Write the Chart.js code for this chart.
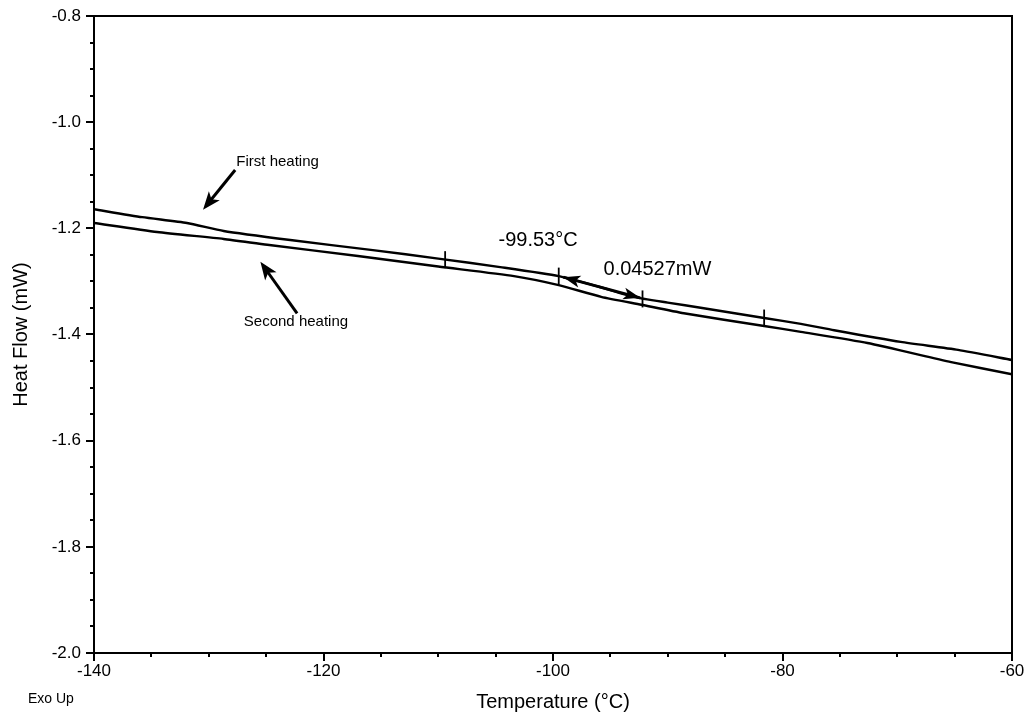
<!DOCTYPE html>
<html>
<head>
<meta charset="utf-8">
<script src="https://cdn.jsdelivr.net/npm/chart.js@4"></script>
<style>
  html, body { margin: 0; padding: 0; background: #fff; }
  #wrap { width: 1028px; height: 715px; }
</style>
</head>
<body>
<div id="wrap"><canvas id="chart"></canvas></div>
<script>
// temperatures (°C) and heat flow (mW)
const firstTemps = [-140, -135.8, -131.9, -128.7, -122.9, -115.7, -110, -104.6, -99.5, -96, -93, -90, -87, -81.6, -78.4, -75.5, -69.7, -64.7, -60];
const firstFlow = [-1.164, -1.179, -1.19, -1.205, -1.222, -1.241, -1.257, -1.273, -1.29, -1.31, -1.329, -1.34, -1.35, -1.369, -1.38, -1.392, -1.414, -1.429, -1.448];

const secondTemps = [-140, -134.5, -128.7, -124.9, -117, -110, -103.4, -99.5, -95.8, -92.3, -88.6, -81.6, -78.4, -72.6, -65.3, -60];
const secondFlow = [-1.19, -1.207, -1.22, -1.231, -1.252, -1.272, -1.29, -1.307, -1.329, -1.344, -1.36, -1.384, -1.395, -1.416, -1.452, -1.475];

// glass transition markers on the first heating curve
const markerTemps = [-109.4, -99.5, -92.2, -81.6];
const markerFlow = [-1.259, -1.29, -1.333, -1.369];

// step height arrow (two ends) and label arrows [tailX, tailY, headX, headY]
const stepArrow = [-99.1, -1.292, -92.4, -1.331];
const firstArrow = [-127.7, -1.09, -130.5, -1.165];
const secondArrow = [-122.3, -1.36, -125.5, -1.263];

const labels = ['-99.53°C', '0.04527mW', 'First heating', 'Second heating'];
const labelTemps = [-101.3, -90.9, -124, -122.4];
const labelFlow = [-1.222, -1.278, -1.075, -1.376];

const xMin = -140, xMax = -60;
const yMin = -2.0, yMax = -0.8;

const FONT = 'Arial, "Liberation Sans", sans-serif';

function toPoints(xs, ys) {
  return xs.map((x, i) => ({ x: x, y: ys[i] }));
}

function isMultiple(v, step) {
  const r = v / step;
  return Math.abs(r - Math.round(r)) < 1e-6;
}

function arrowHead(ctx, x1, y1, x2, y2, len, half) {
  const a = Math.atan2(y2 - y1, x2 - x1);
  ctx.beginPath();
  ctx.moveTo(x2, y2);
  ctx.lineTo(x2 - len * Math.cos(a) + half * Math.sin(a), y2 - len * Math.sin(a) - half * Math.cos(a));
  ctx.lineTo(x2 - len * 0.75 * Math.cos(a), y2 - len * 0.75 * Math.sin(a));
  ctx.lineTo(x2 - len * Math.cos(a) - half * Math.sin(a), y2 - len * Math.sin(a) + half * Math.cos(a));
  ctx.closePath();
  ctx.fill();
}

const dscPlugin = {
  id: 'dsc',
  afterDraw(chart) {
    const ctx = chart.ctx;
    const xs = chart.scales.x, ys = chart.scales.y;
    const area = chart.chartArea;
    ctx.save();
    ctx.strokeStyle = '#000';
    ctx.fillStyle = '#000';

    // frame
    ctx.lineWidth = 2;
    ctx.strokeRect(area.left, area.top, area.right - area.left, area.bottom - area.top);

    // tick marks
    ctx.lineWidth = 2;
    ys.ticks.forEach((t) => {
      const py = Math.round(ys.getPixelForValue(t.value));
      const len = isMultiple(t.value, 0.2) ? 8 : 4;
      ctx.beginPath();
      ctx.moveTo(area.left, py);
      ctx.lineTo(area.left - len, py);
      ctx.stroke();
    });
    xs.ticks.forEach((t) => {
      const px = Math.round(xs.getPixelForValue(t.value));
      const len = isMultiple(t.value, 20) ? 8 : 4;
      ctx.beginPath();
      ctx.moveTo(px, area.bottom);
      ctx.lineTo(px, area.bottom + len);
      ctx.stroke();
    });

    // markers on the curve
    ctx.lineWidth = 1.8;
    markerTemps.forEach((t, i) => {
      const px = xs.getPixelForValue(t);
      ctx.beginPath();
      ctx.moveTo(px, ys.getPixelForValue(markerFlow[i] + 0.016));
      ctx.lineTo(px, ys.getPixelForValue(markerFlow[i] - 0.016));
      ctx.stroke();
    });

    // double arrow for step height
    const ax1 = xs.getPixelForValue(stepArrow[0]), ay1 = ys.getPixelForValue(stepArrow[1]);
    const ax2 = xs.getPixelForValue(stepArrow[2]), ay2 = ys.getPixelForValue(stepArrow[3]);
    ctx.lineWidth = 3;
    ctx.beginPath();
    ctx.moveTo(ax1, ay1);
    ctx.lineTo(ax2, ay2);
    ctx.stroke();
    arrowHead(ctx, ax2, ay2, ax1, ay1, 17, 6);
    arrowHead(ctx, ax1, ay1, ax2, ay2, 17, 6);

    // label arrows
    [firstArrow, secondArrow].forEach((a) => {
      const x1 = xs.getPixelForValue(a[0]), y1 = ys.getPixelForValue(a[1]);
      const x2 = xs.getPixelForValue(a[2]), y2 = ys.getPixelForValue(a[3]);
      ctx.lineWidth = 3;
      ctx.beginPath();
      ctx.moveTo(x1, y1);
      ctx.lineTo(x2 - (x2 - x1) * 0.15, y2 - (y2 - y1) * 0.15);
      ctx.stroke();
      arrowHead(ctx, x1, y1, x2, y2, 18, 7);
    });

    // text labels
    ctx.textAlign = 'center';
    ctx.textBaseline = 'middle';
    labels.forEach((txt, i) => {
      ctx.font = (i < 2 ? '20px ' : '15px ') + FONT;
      ctx.fillText(txt, xs.getPixelForValue(labelTemps[i]), ys.getPixelForValue(labelFlow[i]));
    });

    ctx.font = '14px ' + FONT;
    ctx.textAlign = 'left';
    ctx.fillText('Exo Up', 28, 699);
    ctx.restore();
  }
};

new Chart(document.getElementById('chart'), {
  type: 'line',
  data: {
    datasets: [
      {
        label: 'First heating',
        data: toPoints(firstTemps, firstFlow),
        borderColor: '#000',
        borderWidth: 2.4,
        pointRadius: 0,
        tension: 0.2,
        fill: false,
      },
      {
        label: 'Second heating',
        data: toPoints(secondTemps, secondFlow),
        borderColor: '#000',
        borderWidth: 2.4,
        pointRadius: 0,
        tension: 0.2,
        fill: false,
      },
    ],
  },
  options: {
    responsive: true,
    maintainAspectRatio: false,
    animation: false,
    layout: { padding: { left: 0, top: 16, right: 16, bottom: 0 } },
    plugins: {
      legend: { display: false },
      tooltip: { enabled: false },
    },
    scales: {
      x: {
        type: 'linear',
        min: xMin,
        max: xMax,
        grid: { display: false, drawTicks: false },
        border: { display: false },
        ticks: {
          stepSize: 5,
          autoSkip: false,
          maxRotation: 0,
          padding: 8,
          color: '#000',
          font: { family: FONT, size: 17 },
          callback: (v) => (isMultiple(v, 20) ? String(Math.round(v)) : ''),
        },
        title: {
          display: true,
          text: 'Temperature (°C)',
          color: '#000',
          font: { family: FONT, size: 20 },
          padding: { top: 0, bottom: 1 },
        },
        afterFit: (scale) => {
          scale.height = 62;
          scale.paddingLeft = 0;
          scale.paddingRight = 0;
        },
      },
      y: {
        type: 'linear',
        min: yMin,
        max: yMax,
        grid: { display: false, drawTicks: false },
        border: { display: false },
        ticks: {
          stepSize: 0.05,
          autoSkip: false,
          padding: 13,
          color: '#000',
          font: { family: FONT, size: 17 },
          callback: (v) => (isMultiple(v, 0.2) ? v.toFixed(1) : ''),
        },
        title: {
          display: true,
          text: 'Heat Flow (mW)',
          color: '#000',
          font: { family: FONT, size: 20 },
          padding: { top: 9, bottom: 0 },
        },
        afterFit: (scale) => {
          scale.width = 94;
          scale.paddingTop = 0;
          scale.paddingBottom = 0;
        },
      },
    },
  },
  plugins: [dscPlugin],
});
</script>
</body>
</html>
